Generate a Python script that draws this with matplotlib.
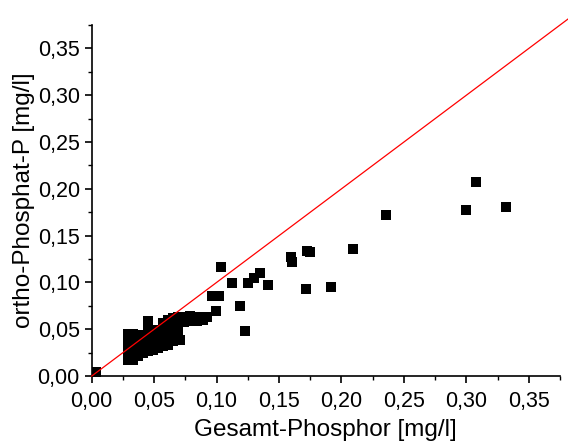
import matplotlib.pyplot as plt
from matplotlib.ticker import MultipleLocator, FuncFormatter

plt.rcParams['font.family'] = ['Liberation Sans', 'DejaVu Sans']

gesamt_p = [0.0035,
            0.029, 0.029, 0.029, 0.029, 0.029,
            0.033, 0.033, 0.033, 0.033, 0.033,
            0.037, 0.037, 0.037, 0.037,
            0.041, 0.041, 0.041, 0.041,
            0.045, 0.045, 0.045, 0.045, 0.045, 0.045,
            0.049, 0.049, 0.049, 0.049,
            0.053, 0.053, 0.053, 0.053,
            0.057, 0.057, 0.057, 0.057, 0.057,
            0.061, 0.061, 0.061, 0.061, 0.061,
            0.065, 0.065, 0.065, 0.065, 0.065,
            0.069, 0.069, 0.069, 0.069,
            0.071,
            0.074, 0.074, 0.079, 0.079, 0.084, 0.084, 0.089, 0.089, 0.092,
            0.0997,
            # Ausreisser
            0.096, 0.1018, 0.1034, 0.1125, 0.1186, 0.1229, 0.1253, 0.130, 0.135,
            0.1413, 0.1594, 0.1605, 0.1714, 0.1725, 0.175, 0.1915, 0.209,
            0.2355, 0.300, 0.308, 0.332]
ortho_p = [0.0042,
           0.017, 0.024, 0.031, 0.038, 0.045,
           0.017, 0.024, 0.031, 0.038, 0.045,
           0.021, 0.028, 0.035, 0.042,
           0.025, 0.032, 0.039, 0.044,
           0.027, 0.034, 0.041, 0.048, 0.053, 0.059,
           0.028, 0.035, 0.042, 0.048,
           0.030, 0.037, 0.044, 0.049,
           0.032, 0.039, 0.046, 0.052, 0.057,
           0.033, 0.040, 0.047, 0.054, 0.060,
           0.037, 0.044, 0.051, 0.058, 0.062,
           0.045, 0.052, 0.059, 0.063,
           0.038,
           0.058, 0.063, 0.059, 0.064, 0.059, 0.063, 0.060, 0.063, 0.063,
           0.069,
           0.0855, 0.0855, 0.1168, 0.099, 0.0751, 0.0484, 0.0997, 0.105, 0.110,
           0.0976, 0.1275, 0.122, 0.0933, 0.134, 0.1325, 0.0954, 0.136,
           0.172, 0.177, 0.207, 0.181]

# 1:1-Linie
linie_x = [0.0, 0.40]
linie_y = [0.0, 0.40]

fig = plt.figure(figsize=(5.68, 4.44), dpi=100)
ax = fig.add_axes([0.1614, 0.153, 0.8246, 0.7907])

ax.scatter(gesamt_p, ortho_p, marker='s', s=45, color='black', linewidths=0, zorder=2)
ax.plot(linie_x, linie_y, color='red', lw=0.9, zorder=3, clip_on=False)

ax.set_xlim(0, 0.375)
ax.set_ylim(0, 0.375)
ax.spines['top'].set_visible(False)
ax.spines['right'].set_visible(False)
for s in ['left', 'bottom']:
    ax.spines[s].set_linewidth(1.2)

komma = FuncFormatter(lambda v, p: ('%.2f' % v).replace('.', ','))
for achse in [ax.xaxis, ax.yaxis]:
    achse.set_major_locator(MultipleLocator(0.05))
    achse.set_minor_locator(MultipleLocator(0.025))
    achse.set_major_formatter(komma)
ax.tick_params(which='major', direction='out', length=5, width=1.2, labelsize=15.5, pad=3.5)
ax.tick_params(axis='x', which='major', pad=5.5)
ax.tick_params(which='minor', direction='out', length=2.7, width=1.0)

ax.set_xlabel('Gesamt-Phosphor [mg/l]', fontsize=17.5, labelpad=5)
ax.set_ylabel('ortho-Phosphat-P [mg/l]', fontsize=17.5, labelpad=2)

plt.savefig('out.png', dpi=100)
